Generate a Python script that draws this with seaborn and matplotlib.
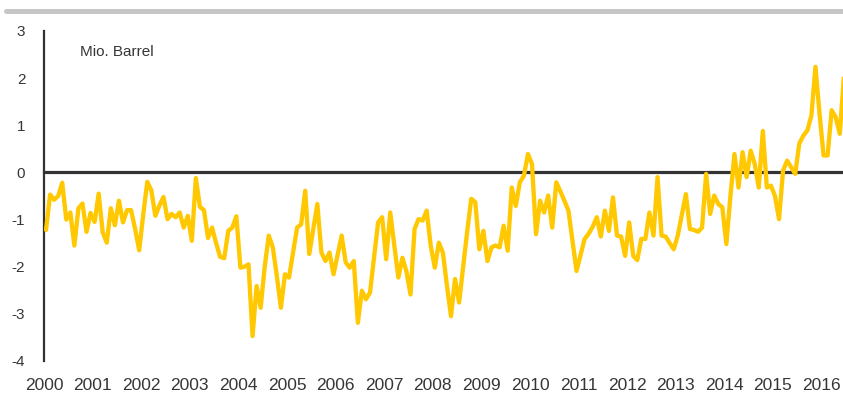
import matplotlib
matplotlib.use("Agg")
import matplotlib.pyplot as plt
from matplotlib.lines import Line2D
import numpy as np
import pandas as pd
import seaborn as sns

# monthly values, Mio. Barrel
v2000 = [-1.22, -0.47, -0.58, -0.50, -0.22, -1.00, -0.85, -1.55, -0.76, -0.66, -1.26, -0.86]
v2001 = [-1.05, -0.45, -1.27, -1.49, -0.76, -1.12, -0.60, -1.06, -0.80, -0.80, -1.20, -1.65]
v2002 = [-0.90, -0.20, -0.38, -0.92, -0.70, -0.52, -0.99, -0.88, -0.95, -0.85, -1.17, -0.92]
v2003 = [-1.45, -0.12, -0.73, -0.80, -1.39, -1.17, -1.50, -1.79, -1.82, -1.24, -1.17, -0.93]
v2004 = [-2.02, -2.00, -1.95, -3.47, -2.41, -2.87, -2.00, -1.34, -1.59, -2.20, -2.87, -2.16]
v2005 = [-2.23, -1.70, -1.17, -1.10, -0.39, -1.73, -1.20, -0.67, -1.70, -1.88, -1.70, -2.16]
v2006 = [-1.75, -1.34, -1.91, -2.02, -1.88, -3.19, -2.51, -2.69, -2.55, -1.80, -1.06, -0.95]
v2007 = [-1.84, -0.85, -1.55, -2.23, -1.81, -2.10, -2.59, -1.20, -0.99, -1.02, -0.81, -1.56]
v2008 = [-2.02, -1.49, -1.70, -2.40, -3.05, -2.26, -2.76, -2.00, -1.25, -0.56, -0.63, -1.63]
v2009 = [-1.24, -1.88, -1.59, -1.55, -1.59, -1.13, -1.66, -0.32, -0.71, -0.21, -0.07, 0.39]
v2010 = [0.18, -1.31, -0.60, -0.85, -0.49, -1.17, -0.21, -0.40, -0.60, -0.81, -1.45, -2.09]
v2011 = [-1.75, -1.41, -1.30, -1.15, -0.95, -1.36, -0.81, -1.24, -0.53, -1.34, -1.36, -1.77]
v2012 = [-1.06, -1.77, -1.86, -1.41, -1.41, -0.85, -1.34, -0.10, -1.34, -1.36, -1.50, -1.63]
v2013 = [-1.34, -0.90, -0.46, -1.20, -1.22, -1.26, -1.17, -0.03, -0.88, -0.49, -0.67, -0.74]
v2014 = [-1.52, -0.50, 0.39, -0.32, 0.43, -0.10, 0.46, 0.18, -0.32, 0.88, -0.32, -0.28]
v2015 = [-0.50, -0.99, 0.04, 0.25, 0.11, -0.03, 0.61, 0.78, 0.89, 1.21, 2.24, 1.25]
v2016 = [0.36, 0.36, 1.32, 1.17, 0.82, 2.00]

years = list(range(2000, 2017))
unit_label = "Mio. Barrel"

values = (v2000 + v2001 + v2002 + v2003 + v2004 + v2005 + v2006 + v2007 + v2008
          + v2009 + v2010 + v2011 + v2012 + v2013 + v2014 + v2015 + v2016)
df = pd.DataFrame({"t": 2000 + (np.arange(len(values)) + 0.5) / 12, "v": values})

sns.set_style("white")
plt.rcParams["font.family"] = ["Liberation Sans", "DejaVu Sans"]
plt.rcParams["axes.unicode_minus"] = False

W, H = 843, 407
fig = plt.figure(figsize=(W / 100, H / 100), dpi=100)
ax = fig.add_axes([44 / W, 1 - 361 / H, 1 - 44 / W, (361 - 31) / H])

sns.lineplot(data=df, x="t", y="v", color="#FFC800", linewidth=3.1, ax=ax, zorder=3)

ax.set_xlim(2000, 2000 + 197.3 / 12)
ax.set_ylim(-4, 3)
ax.set_yticks(range(-4, 4))
ax.set_xticks(years)
ax.set_xlabel("")
ax.set_ylabel("")

ink = "#333333"
txt = "#363636"
ax.spines[["top", "right"]].set_visible(False)
ax.spines["bottom"].set_position(("data", 0))
ax.spines["bottom"].set_linewidth(2.3)
ax.spines["bottom"].set_color(ink)
ax.spines["left"].set_linewidth(1.6)
ax.spines["left"].set_color(ink)
ax.tick_params(axis="x", direction="out", length=3, width=1.3, color=ink, labelbottom=False)
ax.tick_params(axis="y", direction="out", length=4.5, width=1.4, color=ink, pad=9,
               labelsize=11, labelcolor=txt)

# year labels sit at the bottom, not on the zero line
sec = ax.secondary_xaxis("bottom")
sec.set_xticks(years, labels=[str(y) for y in years])
sec.tick_params(length=0, pad=12, labelsize=12.5, labelcolor=txt)
sec.spines["bottom"].set_visible(False)

fig.text(80 / W, 1 - 52 / H, unit_label, ha="left", va="center", fontsize=11, color=txt)

# grey rule at the top of the panel
fig.add_artist(Line2D([6 / W, 1], [1 - 10.5 / H] * 2, color="#c6c6c6", linewidth=3.6))

fig.savefig("out.png", dpi=100)
